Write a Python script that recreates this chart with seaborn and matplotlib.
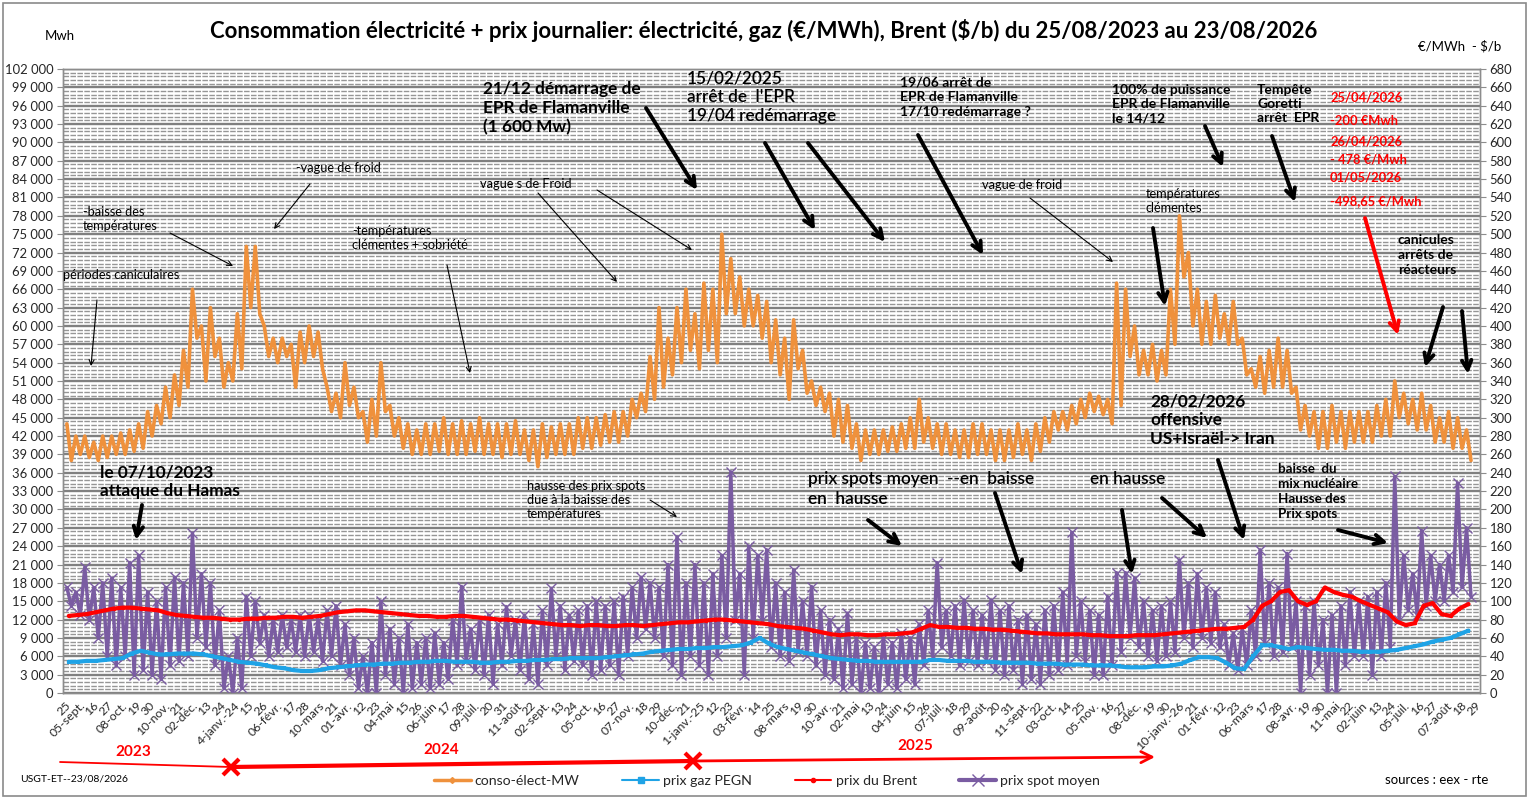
import numpy as np
import pandas as pd
import matplotlib
matplotlib.use('Agg')
import matplotlib.pyplot as plt
import matplotlib.dates as mdates
import seaborn as sns
from matplotlib.ticker import MultipleLocator, FuncFormatter, FixedLocator
from matplotlib.patches import FancyArrowPatch, Rectangle
from matplotlib.lines import Line2D

# ---------------- DATA (weekly readings from 25/08/2023) ----------------
start_date = '2023-08-25'

# consumption (thousand MWh): weekday level (hi) and weekend level (lo) for each week
conso_hi = [44, 42, 42, 41, 42, 42, 42.5, 43, 44, 46,
            47, 50, 52, 56, 66, 60, 63, 58, 54, 62,
            73, 73, 60, 58, 58, 57, 59, 60, 59, 50,
            49, 54, 50, 46, 48, 54, 47, 45, 44, 43,
            44, 44, 45, 44, 44.5, 44, 45, 44, 44, 44,
            44.5, 43, 43, 44, 43.5, 44, 44, 45, 45, 45,
            45.5, 46, 46, 48, 49, 55, 63, 58, 63, 66,
            62, 67, 66, 75, 71, 68, 66, 65, 64, 61,
            58, 61, 56, 51, 50, 49, 48, 47, 44, 43,
            43, 43, 43.5, 44, 45, 48, 45, 44, 44, 43,
            43, 44, 44, 43, 43, 43, 44, 43, 44, 45,
            46, 46, 47, 48, 49, 48.5, 48, 67, 66, 60,
            56, 57, 56, 66, 78, 72, 66, 64, 65, 62,
            64, 58, 53, 55, 56, 58, 56, 50, 47, 46,
            46, 47, 46, 46, 46, 46, 47, 48, 51, 49,
            48, 49, 47, 45, 46, 45, 43]
conso_lo = [38, 39, 38.5, 38, 38.5, 39, 39, 39.5, 40, 42,
            44, 45, 47, 50, 58, 51, 55, 50, 51, 53,
            63, 62, 55, 54, 55, 50, 54, 55, 53, 46,
            45, 47, 45, 41, 42, 46, 42, 40, 39, 39,
            39, 39.5, 39, 39, 39, 39.5, 39, 39, 38.5, 39,
            39, 38, 37, 38.5, 39, 39, 39, 40, 40, 40.5,
            41, 41, 42, 45, 46, 48, 50, 52, 54, 56,
            53, 56, 54, 62, 62, 60, 60, 58, 54, 52,
            48, 53, 49, 47, 46, 42, 41, 40, 38, 39,
            39, 39.5, 39.5, 40, 40, 41, 40, 39, 39, 38.5,
            38.5, 39, 39, 38, 38, 38.5, 39, 38, 39.5, 41,
            43, 43, 44, 45, 46, 45.5, 44, 47, 55, 52,
            52, 51, 52, 57, 68, 60, 57, 57, 58, 57,
            57, 52, 50, 49, 50, 50, 49, 43, 42, 40,
            40, 41, 40, 41, 41, 41, 42, 42, 45, 44,
            43, 43, 41, 41, 40, 40, 38]

# spot price (EUR/MWh): weekly high and low
spot_hi = [115, 110, 137, 115, 120, 125, 115, 142, 150, 110,
           100, 115, 126, 120, 174, 130, 120, 90, 40, 60,
           105, 100, 85, 80, 85, 80, 85, 85, 80, 90,
           95, 75, 60, 40, 55, 100, 70, 60, 75, 55,
           60, 65, 55, 80, 116, 70, 80, 85, 75, 94,
           80, 85, 75, 90, 114, 95, 85, 90, 95, 100,
           95, 100, 105, 115, 126, 120, 115, 140, 170, 120,
           140, 120, 130, 150, 241, 130, 160, 150, 156, 120,
           110, 134, 100, 116, 90, 80, 70, 87, 60, 55,
           50, 60, 55, 65, 60, 75, 90, 142, 90, 95,
           101, 90, 85, 101, 90, 95, 80, 85, 75, 90,
           95, 110, 175, 100, 90, 85, 105, 131, 131, 125,
           100, 90, 95, 100, 145, 120, 130, 115, 110, 75,
           65, 70, 90, 156, 120, 115, 152, 100, 95, 100,
           80, 85, 95, 110, 100, 105, 110, 120, 236, 150,
           130, 177, 150, 140, 150, 229, 180]
spot_lo = [95, 85, 80, 60, 40, 30, 40, 20, 25, 20,
           15, 30, 35, 40, 60, 50, 30, 5, 0, 5,
           40, 55, 40, 45, 50, 45, 40, 45, 35, 40,
           30, 20, 5, 0, 0, 20, 10, 0, 5, 10,
           5, 10, 15, 30, 35, 25, 20, 10, 30, 40,
           25, 15, 10, 30, 40, 25, 35, 30, 20, 25,
           30, 20, 40, 60, 70, 60, 40, 30, 20, 40,
           30, 20, 40, 60, 80, 20, 60, 80, 50, 40,
           35, 45, 40, 30, 20, 15, 5, 10, 0, 5,
           0, 10, 5, 15, 10, 30, 40, 50, 40, 30,
           35, 30, 35, 25, 20, 25, 10, 15, 10, 20,
           25, 30, 40, 35, 20, 20, 30, 45, 60, 50,
           40, 35, 40, 45, 60, 50, 60, 55, 50, 30,
           25, 30, 40, 55, 40, 45, 50, 0, 20, 30,
           0, 0, 30, 40, 40, 20, 40, 50, 80, 90,
           85, 95, 100, 100, 110, 115, 105]

# gas PEGN (EUR/MWh), weekly
gas = [34, 34, 35, 35, 36, 37, 38, 43, 46, 44,
       42, 42, 43, 43, 43, 42, 40, 38, 36, 34,
       33, 32, 30, 28, 27, 25, 24, 24, 25, 27,
       28, 29, 30, 31, 31, 32, 32, 33, 33, 34,
       34, 35, 35, 34, 34, 34, 33, 33, 34, 34,
       35, 35, 36, 36, 37, 37, 38, 38, 38, 38,
       39, 40, 41, 42, 43, 45, 46, 47, 48, 48,
       49, 49, 50, 50, 51, 52, 55, 60, 54, 50,
       48, 46, 44, 42, 40, 38, 37, 36, 35, 35,
       34, 34, 34, 34, 34, 34, 36, 36, 35, 35,
       35, 34, 34, 34, 33, 33, 33, 33, 32, 32,
       32, 31, 31, 31, 30, 30, 30, 29, 28, 28,
       28, 29, 29, 30, 32, 36, 39, 39, 38, 33,
       27, 26, 40, 52, 52, 50, 48, 50, 49, 48,
       47, 47, 46, 46, 45, 45, 45, 46, 47, 49,
       51, 53, 56, 58, 60, 64, 68]

# Brent ($/b), weekly
brent = [84, 85, 86, 88, 90, 92, 93, 93, 92, 91,
         90, 87, 85, 84, 83, 82, 82, 81, 80, 80,
         81, 81, 82, 82, 83, 83, 82, 83, 84, 86,
         88, 89, 90, 90, 89, 88, 87, 86, 85, 84,
         84, 83, 83, 84, 84, 83, 82, 81, 80, 80,
         79, 78, 77, 76, 75, 74, 74, 73, 74, 74,
         73, 73, 74, 74, 73, 74, 75, 76, 77, 77,
         78, 79, 80, 80, 79, 78, 77, 76, 75, 73,
         72, 71, 70, 68, 66, 64, 63, 64, 64, 63,
         63, 64, 64, 65, 66, 70, 74, 72, 72, 71,
         71, 70, 70, 69, 69, 68, 67, 66, 65, 65,
         64, 64, 64, 64, 63, 63, 62, 62, 62, 63,
         63, 63, 64, 65, 66, 67, 68, 69, 70, 70,
         71, 72, 80, 95, 100, 110, 112, 100, 96, 100,
         115, 110, 107, 105, 100, 96, 92, 88, 78, 74,
         76, 95, 98, 86, 84, 92, 97]

tick_labels = ["25", "05-sept.", "16", "27", "08-oct.", "19", "30", "10-nov.", "21", "02-déc.",
               "13", "24", "4-janv.-24", "15", "26", "06-févr.", "17", "28", "10-mars", "21",
               "01-avr.", "12", "23", "04-mai", "15", "26", "06-juin", "17", "28", "09-juil.",
               "20", "31", "11-août", "22", "02-sept.", "13", "24", "05-oct.", "16", "27",
               "07-nov.", "18", "29", "10-déc.", "21", "1-janv.-25", "12", "23", "03-févr.", "14",
               "25", "08-mars", "19", "30", "10-avr.", "21", "02-mai", "13", "24", "04-juin",
               "15", "26", "07-juil.", "18", "29", "09-août", "20", "31", "11-sept.", "22",
               "03-oct.", "14", "25", "05-nov.", "16", "27", "08-déc.", "19", "30", "10-janv.-26",
               "21", "01-févr.", "12", "23", "06-mars", "17", "28", "08-avr.", "19", "30",
               "11-mai", "22", "02-juin", "13", "24", "05-juil.", "16", "27", "07-août", "18", "29"]

legend_labels = ["conso-élect-MW", "prix gaz PEGN", "prix du Brent", "prix spot moyen"]

# ---------------- BUILD SERIES ----------------
t0 = pd.Timestamp(start_date)
nw = len(conso_hi)
wk = np.arange(nw)
hi_t = t0 + pd.to_timedelta(wk * 7 + 1.5, unit='D')
lo_t = t0 + pd.to_timedelta(wk * 7 + 5.0, unit='D')
zig_t = np.empty(2 * nw, dtype='datetime64[ns]')
zig_t[0::2] = hi_t.values
zig_t[1::2] = lo_t.values

def zig(a, b):
    out = np.empty(2 * len(a))
    out[0::2] = a
    out[1::2] = b
    return out

df_conso = pd.DataFrame({'date': zig_t, 'v': zig(conso_hi, conso_lo) * 1000})
df_spot = pd.DataFrame({'date': zig_t, 'v': zig(spot_hi, spot_lo)})
wk_t = t0 + pd.to_timedelta(wk * 7 + 3.0, unit='D')
df_gas = pd.DataFrame({'date': wk_t, 'v': gas})
df_brent = pd.DataFrame({'date': wk_t, 'v': brent})

# ---------------- STYLE ----------------
sns.set_style('white')
plt.rcParams['font.family'] = ['Lato', 'DejaVu Sans']

C_CONSO = '#EF913C'
C_GAS = '#1FA3E6'
C_BRENT = '#FF0000'
C_SPOT = '#7A5CA2'
GRID = '#8c8c8c'

W, H = 1529, 799
fig = plt.figure(figsize=(W / 100, H / 100), dpi=100)
fig.patch.set_facecolor('white')

def fx(px):
    return px / W

def fy(py):
    return 1 - py / H

ax = fig.add_axes([fx(63), fy(693), fx(1480) - fx(63), fy(69) - fy(693)])
ax2 = ax.twinx()

# ---------------- LINES ----------------
sns.lineplot(data=df_conso, x='date', y='v', ax=ax, color=C_CONSO, lw=2.6,
             estimator=None, sort=False, legend=False, zorder=3)
sns.lineplot(data=df_spot, x='date', y='v', ax=ax2, color=C_SPOT, lw=2.5,
             marker='x', markersize=6.5, markeredgewidth=1.0, markeredgecolor=C_SPOT,
             estimator=None, sort=False, legend=False, zorder=2)
sns.lineplot(data=df_gas, x='date', y='v', ax=ax2, color=C_GAS, lw=3.0,
             marker='s', markersize=2.5, markeredgewidth=0,
             estimator=None, sort=False, legend=False, zorder=3)
sns.lineplot(data=df_brent, x='date', y='v', ax=ax2, color=C_BRENT, lw=3.0,
             marker='o', markersize=2.5, markeredgewidth=0,
             estimator=None, sort=False, legend=False, zorder=4)

# ---------------- AXES ----------------
tick_dates = pd.date_range(t0, periods=len(tick_labels), freq='11D')
tick_nums = mdates.date2num(tick_dates.to_pydatetime())
ax.set_xlim(tick_nums[0] - 1.5, tick_nums[-1] + 4)
ax.xaxis.set_major_locator(FixedLocator(tick_nums))
ax.set_xticklabels(tick_labels, rotation=45, ha='right', rotation_mode='anchor', fontsize=8.8)
ax.tick_params(axis='x', length=3, color=GRID, pad=2)

ax.set_ylim(0, 102000)
ax.yaxis.set_major_locator(MultipleLocator(3000))
ax.yaxis.set_minor_locator(MultipleLocator(600))
ax.yaxis.set_major_formatter(FuncFormatter(lambda v, p: f"{int(round(v)):,}".replace(',', ' ')))
ax.tick_params(axis='y', which='major', labelsize=9.4, length=4, color=GRID, pad=3)
ax.tick_params(axis='y', which='minor', length=0)

ax2.set_ylim(0, 680)
ax2.yaxis.set_major_locator(MultipleLocator(20))
ax2.tick_params(axis='y', which='major', labelsize=9.4, length=4, color=GRID, pad=3)

for a in (ax, ax2):
    a.set_xlabel('')
    a.set_ylabel('')
    for s in a.spines.values():
        s.set_color(GRID)
        s.set_linewidth(1.0)

ax.grid(which='minor', axis='y', color='#969696', lw=1.0, ls=(0, (4, 1)))
ax.grid(which='major', axis='y', color='#808080', lw=1.7)
ax.set_axisbelow(True)
ax2.grid(False)

# ---------------- TEXT HELPERS ----------------
def T(x, y, s, size=9, weight='normal', color='black', ha='left', va='center', ls=1.15):
    fig.text(fx(x), fy(y), s, fontsize=size, fontweight=weight, color=color,
             ha=ha, va=va, linespacing=ls, zorder=10)

def A(p0, p1, thick=True, color='black'):
    if thick:
        kw = dict(arrowstyle='->', mutation_scale=17, lw=2.8)
    else:
        kw = dict(arrowstyle='->', mutation_scale=9, lw=0.8)
    fig.add_artist(FancyArrowPatch((fx(p0[0]), fy(p0[1])), (fx(p1[0]), fy(p1[1])),
                                   transform=fig.transFigure, color=color,
                                   shrinkA=0, shrinkB=0, zorder=10, **kw))

# title and axis units
T(764, 30, "Consommation électricité + prix journalier: électricité, gaz (€/MWh), Brent ($/b) du 25/08/2023 au 23/08/2026",
  size=16, weight='bold', ha='center')
T(45, 36, "Mwh", size=9.5)
T(1418, 46, "€/MWh  - $/b", size=9.5)

# annotations (upper part)
T(63, 275, "périodes caniculaires", size=9.2)
A((97, 300), (91, 366), thick=False)
T(83, 219, "-baisse des\ntempératures", size=9.2)
A((170, 233), (233, 266), thick=False)
T(296, 168, "-vague de froid", size=9.2)
A((310, 184), (274, 229), thick=False)
T(352, 238, "-températures\nclémentes + sobriété", size=9.2)
A((447, 265), (470, 373), thick=False)
T(480, 184, "vague s de Froid", size=9.2)
A((538, 193), (617, 282), thick=False)
A((597, 190), (692, 250), thick=False)

T(483, 108, "21/12 démarrage de\nEPR de Flamanville\n(1 600 Mw)", size=12.4, weight='bold', ls=1.22)
A((646, 108), (697, 190))
T(687, 97, "15/02/2025\narrêt de  l'EPR\n19/04 redémarrage", size=12.4, weight='semibold', ls=1.22)
A((765, 143), (815, 230))
A((808, 143), (885, 242))
T(900, 97, "19/06 arrêt de\nEPR de Flamanville\n17/10 redémarrage ?", size=10, weight='bold', ls=1.25)
A((918, 135), (983, 255))
T(982, 185, "vague de froid", size=9.2)
A((1030, 198), (1113, 262), thick=False)
T(1112, 104, "100% de puissance\nEPR de Flamanville\nle 14/12", size=10, weight='bold', ls=1.25)
A((1205, 126), (1223, 167))
T(1257, 104, "Tempête\nGoretti\narrêt  EPR", size=10, weight='bold', ls=1.25)
A((1272, 136), (1295, 202))

for yy, s in [(97, "25/04/2026"), (121, "-200 €Mwh"), (141, "26/04/2026"),
              (159, "- 478 €/Mwh"), (177, "01/05/2026"), (201, "-498,65 €/Mwh")]:
    T(1330, yy, s, size=9.3, weight='bold', color='#FF0000')
A((1365, 218), (1398, 335), color='#FF0000')

T(1146, 201, "températures\nclémentes", size=9.2)
A((1153, 228), (1165, 306))
T(1398, 255, "canicules\narrêts de\nréacteurs", size=10, weight='bold', ls=1.25)
A((1443, 307), (1425, 367))
A((1462, 311), (1468, 374))

# annotations (lower part)
T(100, 482, "le 07/10/2023\nattaque du Hamas", size=12.4, weight='bold', ls=1.22)
A((142, 505), (136, 540))
T(527, 500, "hausse des prix spots\ndue à la baisse des\ntempératures", size=9.2, ls=1.2)
A((650, 500), (677, 517), thick=False)
T(808, 489, "prix spots moyen  --en  baisse\nen  hausse", size=12.4, weight='semibold', ls=1.3)
A((868, 520), (902, 546))
A((995, 493), (1022, 574))
T(1090, 479, "en hausse", size=12.4, weight='semibold')
A((1122, 510), (1132, 574))
T(1150, 420, "28/02/2026\noffensive\nUS+Israël-> Iran", size=12.4, weight='bold', ls=1.22)
A((1162, 498), (1207, 538))
A((1218, 460), (1244, 540))
T(1278, 492, "baisse  du\nmix nucléaire\nHausse des\nPrix spots", size=9.6, weight='bold', ls=1.3)
A((1338, 530), (1388, 543))

# ---------------- YEAR ARROWS ----------------
T(133, 752, "2023", size=11, weight='bold', color='#FF0000', ha='center')
T(441, 750, "2024", size=11, weight='bold', color='#FF0000', ha='center')
T(915, 746, "2025", size=11, weight='bold', color='#FF0000', ha='center')
fig.add_artist(Line2D([fx(60), fx(231)], [fy(762), fy(767)], color='#FF0000', lw=1.3,
                      transform=fig.transFigure))
fig.add_artist(Line2D([fx(231), fx(693)], [fy(767), fy(761)], color='#FF0000', lw=3,
                      transform=fig.transFigure))
for xx, yy in [(231, 767), (693, 761)]:
    fig.add_artist(Line2D([fx(xx)], [fy(yy)], marker='x', ms=11, mew=3, color='#FF0000',
                          transform=fig.transFigure))
fig.add_artist(FancyArrowPatch((fx(693), fy(761)), (fx(1155), fy(757)), transform=fig.transFigure,
                               arrowstyle='->', mutation_scale=20, lw=2, color='#FF0000',
                               shrinkA=0, shrinkB=0))

# ---------------- LEGEND & FOOTER ----------------
handles = [Line2D([], [], color=C_CONSO, lw=2.5, marker='D', ms=3),
           Line2D([], [], color=C_GAS, lw=1.5, marker='s', ms=4),
           Line2D([], [], color=C_BRENT, lw=1.5, marker='o', ms=3),
           Line2D([], [], color=C_SPOT, lw=3, marker='x', ms=9, mew=1)]
fig.legend(handles, legend_labels, loc='center', bbox_to_anchor=(fx(767), fy(781)), ncol=4,
           frameon=False, fontsize=10.2, columnspacing=3.0, handlelength=2.6, handletextpad=0.3)
T(20, 779, "USGT-ET--23/08/2026", size=7.5)
T(1385, 780, "sources : eex - rte", size=9.5)

fig.add_artist(Rectangle((fx(3), fy(796)), fx(1526) - fx(3), fy(3) - fy(796), fill=False,
                         edgecolor='#8a8a8a', lw=1.2, transform=fig.transFigure))

fig.savefig('out.png', dpi=100, facecolor='white')
